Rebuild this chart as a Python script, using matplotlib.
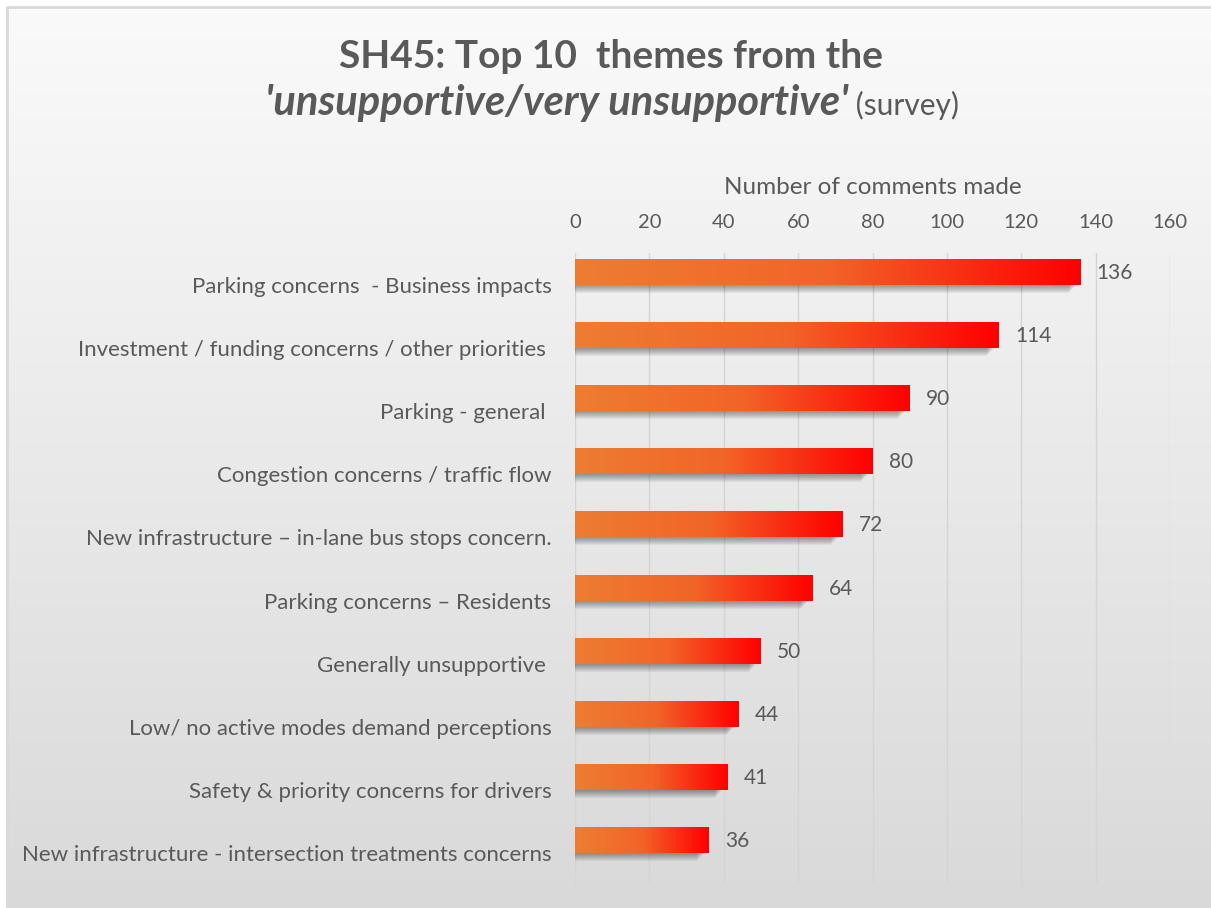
import numpy as np
import matplotlib.pyplot as plt
from matplotlib.patches import Rectangle
from matplotlib.colors import LinearSegmentedColormap

themes = [
    "Parking concerns  - Business impacts",
    "Investment / funding concerns / other priorities ",
    "Parking - general ",
    "Congestion concerns / traffic flow",
    "New infrastructure \u2013 in-lane bus stops concern.",
    "Parking concerns \u2013 Residents",
    "Generally unsupportive ",
    "Low/ no active modes demand perceptions",
    "Safety & priority concerns for drivers",
    "New infrastructure - intersection treatments concerns",
]
counts = [136, 114, 90, 80, 72, 64, 50, 44, 41, 36]
xticks = [0, 20, 40, 60, 80, 100, 120, 140, 160]

plt.rcParams['font.family'] = ['Lato', 'DejaVu Sans']
TXT = '#595959'
W, H = 1211, 908

fig = plt.figure(figsize=(W / 100, H / 100), dpi=100)
fig.patch.set_facecolor('white')

# chart-area background: soft vertical gradient inside a thin frame
bg = fig.add_axes([0, 0, 1, 1], zorder=-10)
bg.set_axis_off()
bg_cmap = LinearSegmentedColormap.from_list('bg', ['#fafafa', '#d9d9d9'])
bg.imshow(np.linspace(0, 1, 256).reshape(-1, 1), cmap=bg_cmap, aspect='auto',
          extent=[7, W, H, 7], interpolation='bilinear')
bg.plot([7, 7, W], [H, 7, 7], color='#d9d9d9', lw=2)
bg.set_xlim(0, W)
bg.set_ylim(H, 0)

# title, two lines, the second one mixing bold italic and regular text
fig.text(611 / W, 1 - 68 / H, "SH45: Top 10  themes from the", ha='center', va='baseline',
         fontsize=28, fontweight='bold', color=TXT)
fig.canvas.draw()
r = fig.canvas.get_renderer()
t1 = fig.text(0, 1 - 115 / H, "'unsupportive/very unsupportive'", ha='left', va='baseline',
              fontsize=30, fontweight='bold', fontstyle='italic', color=TXT)
t2 = fig.text(0, 1 - 115 / H, " (survey)", ha='left', va='baseline',
              fontsize=21.5, color=TXT)
w1 = t1.get_window_extent(r).width
w2 = t2.get_window_extent(r).width
x0 = 612 - (w1 + w2) / 2
t1.set_x(x0 / W)
t2.set_x((x0 + w1) / W)

ax = fig.add_axes([575 / W, 1 - 885 / H, (1170 - 575) / W, (885 - 253) / H])
ax.set_facecolor('none')
n = len(counts)

px_x = 160 / (1170 - 575)
px_y = n / (885 - 253)
bar_h = 0.41
grad = np.linspace(0, 1, 256).reshape(1, -1)
bar_cmap = LinearSegmentedColormap.from_list('bar', ['#ed7d31', '#f26428', '#ff0000'])

for i, v in enumerate(counts):
    top = i - bar_h
    # blurred drop shadow under each bar
    for k in range(1, 9):
        ax.add_patch(Rectangle((0, top + k * px_y), v - (4 + k) * px_x, bar_h,
                               facecolor='black', edgecolor='none', alpha=0.05, zorder=2))
    ax.imshow(grad, cmap=bar_cmap, aspect='auto', extent=[0, v, i, top],
              interpolation='bilinear', zorder=3)
    ax.text(v + 16 * px_x, i - 0.19, str(v), ha='left', va='center',
            fontsize=15, color=TXT)

ax.set_xlim(0, 160)
ax.set_ylim(n - 0.5, -0.5)

ax.set_xticks(xticks)
ax.xaxis.tick_top()
ax.xaxis.set_label_position('top')
ax.set_xlabel('Number of comments made', fontsize=17.5, color=TXT, labelpad=14)
ax.grid(axis='x', color='#d4d4d4', lw=1, zorder=0)
ax.set_axisbelow(True)
ax.set_yticks(range(n))
ax.set_yticklabels(themes)
ax.tick_params(axis='x', length=0, pad=16, labelsize=14.5, labelcolor=TXT)
ax.tick_params(axis='y', length=0, pad=17, labelsize=16, labelcolor=TXT)
for s in ax.spines.values():
    s.set_visible(False)

fig.savefig('out.png', dpi=100)
